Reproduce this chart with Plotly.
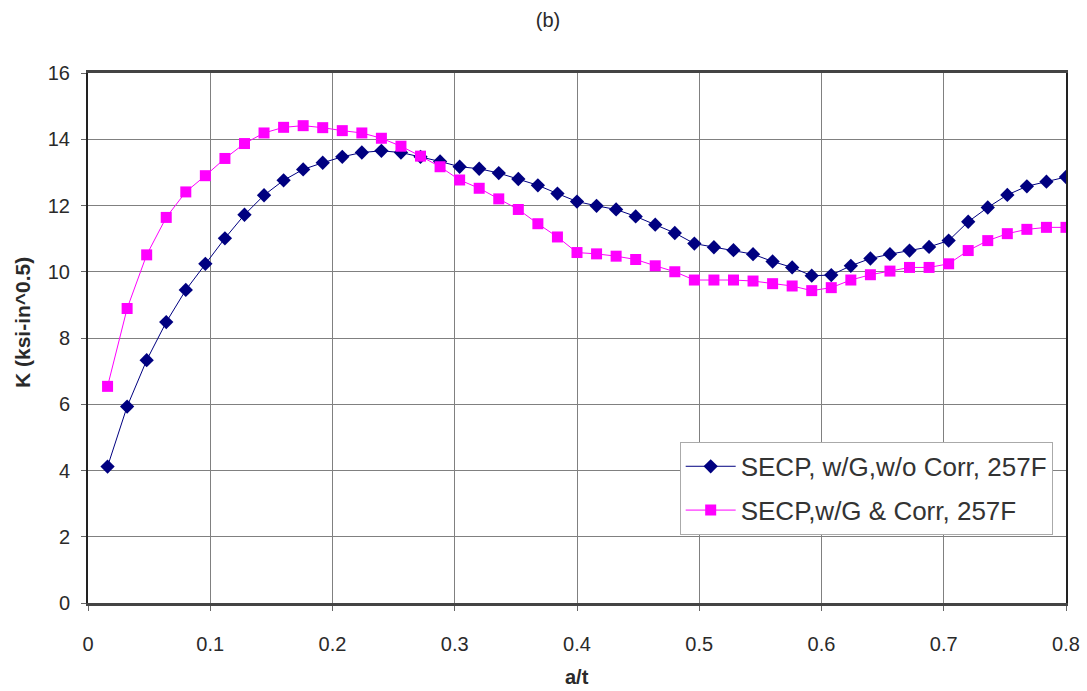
import plotly.graph_objects as go

a_t = [round(0.016 * k, 3) for k in range(1, 51)]

k_no_corr = [4.12, 5.93, 7.33, 8.48, 9.45, 10.24, 11.01, 11.72, 12.31, 12.76,
             13.09, 13.29, 13.47, 13.60, 13.65, 13.60, 13.47, 13.33, 13.17, 13.11,
             12.98, 12.80, 12.61, 12.36, 12.12, 11.99, 11.88, 11.67, 11.42, 11.17,
             10.85, 10.74, 10.65, 10.53, 10.31, 10.13, 9.88, 9.90, 10.18, 10.40,
             10.53, 10.64, 10.75, 10.94, 11.51, 11.94, 12.32, 12.58, 12.72, 12.86]

k_corr = [6.54, 8.89, 10.51, 11.64, 12.41, 12.90, 13.42, 13.87, 14.19, 14.36,
          14.41, 14.35, 14.26, 14.19, 14.03, 13.79, 13.49, 13.17, 12.77, 12.52,
          12.20, 11.88, 11.45, 11.05, 10.58, 10.54, 10.47, 10.37, 10.18, 10.00,
          9.75, 9.75, 9.75, 9.72, 9.64, 9.57, 9.43, 9.52, 9.75, 9.91,
          10.02, 10.13, 10.13, 10.24, 10.64, 10.94, 11.15, 11.28, 11.34, 11.34]

names = ["SECP, w/G,w/o Corr, 257F", "SECP,w/G & Corr, 257F"]
x_ticks = [0, 0.1, 0.2, 0.3, 0.4, 0.5, 0.6, 0.7, 0.8]
x_tick_text = ["0", "0.1", "0.2", "0.3", "0.4", "0.5", "0.6", "0.7", "0.8"]
y_ticks = [0, 2, 4, 6, 8, 10, 12, 14, 16]
x_title = "<b>a/t</b>"
y_title = "<b>K (ksi-in^0.5)</b>"

fig = go.Figure()
fig.add_trace(go.Scatter(
    x=a_t, y=k_no_corr, mode="lines+markers", name=names[0], legendgroup="a",
    line=dict(color="#000080", width=1),
    marker=dict(symbol="diamond", size=11, color="#000080"),
))
fig.add_trace(go.Scatter(
    x=a_t, y=k_corr, mode="lines+markers", name=names[1], legendgroup="b",
    line=dict(color="#FF00FF", width=1),
    marker=dict(symbol="square", size=11, color="#FF00FF"),
))

font_family = "Liberation Sans, Arial, sans-serif"
txt = "#2a2a2a"
fig.update_layout(
    width=1087, height=691,
    margin=dict(l=88, r=21, t=73, b=88, autoexpand=False),
    paper_bgcolor="white", plot_bgcolor="white",
    font=dict(family=font_family, size=20, color=txt),
    title=dict(text="(b)", x=548 / 1087, xref="container", xanchor="center",
               y=1 - 20 / 691, yref="container", yanchor="middle",
               font=dict(size=20, family=font_family, color=txt)),
    showlegend=True,
    legend=dict(x=0.605, y=0.304, xanchor="left", yanchor="top",
                bgcolor="white", bordercolor="#aaaaaa", borderwidth=1,
                font=dict(size=26, family=font_family, color="#333333"),
                tracegroupgap=7, itemwidth=50),
    annotations=[
        dict(text=x_title, xref="paper", yref="paper", x=0.5, y=-(677 - 603) / 530,
             xanchor="center", yanchor="middle", showarrow=False,
             font=dict(size=20, family=font_family, color=txt)),
        dict(text=y_title, xref="paper", yref="paper", x=-(88 - 22) / 978, y=(603 - 323) / 530,
             xanchor="center", yanchor="middle", showarrow=False, textangle=-90,
             font=dict(size=21, family=font_family, color=txt)),
    ],
)
fig.update_xaxes(
    range=[0, 0.8], tickvals=x_ticks, ticktext=x_tick_text, automargin=False,
    showgrid=True, gridcolor="#808080", gridwidth=1,
    showline=True, linecolor="#444444", linewidth=3, mirror=True,
    ticks="outside", ticklen=5, tickcolor="#666666",
    ticklabelstandoff=16,
    zeroline=False,
)
fig.update_yaxes(
    range=[0, 16], tickvals=y_ticks, automargin=False,
    showgrid=True, gridcolor="#808080", gridwidth=1,
    showline=True, linecolor="#222222", linewidth=2, mirror=True,
    ticks="outside", ticklen=5, tickcolor="#666666",
    ticklabelstandoff=7,
    zeroline=False,
)

fig.write_html("out.html", post_script="document.body.style.margin='0';",
               config={"displayModeBar": False})
